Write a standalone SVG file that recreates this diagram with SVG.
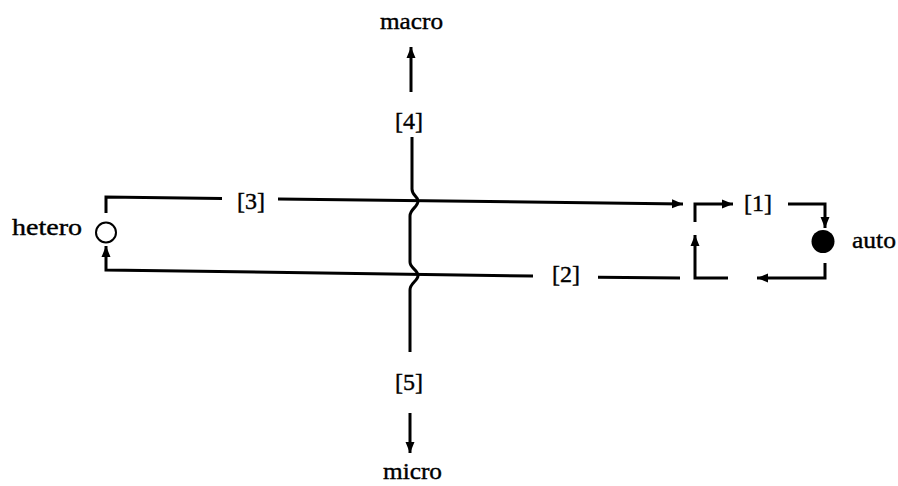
<svg xmlns="http://www.w3.org/2000/svg" width="898" height="486" viewBox="0 0 898 486">
  <style>
    text { font-family: "Liberation Serif", "Times New Roman", serif; font-size: 24px; fill: #000; stroke: #000; stroke-width: 0.4; }
    .ln { fill: none; stroke: #000; stroke-width: 3; stroke-linejoin: miter; }
  </style>
  <defs>
    <marker id="arr" markerUnits="userSpaceOnUse" markerWidth="12" markerHeight="10" viewBox="0 0 12 10" refX="11" refY="5" orient="auto">
      <path d="M0,0.5 L11,5 L0,9.5 Z" fill="#000"/>
    </marker>
  </defs>
  <rect width="898" height="486" fill="#fff"/>

  <g id="hetero">
    <circle cx="106" cy="232.5" r="10" fill="#fff" stroke="#000" stroke-width="2"/>
    <text x="12" y="235" textLength="70" lengthAdjust="spacingAndGlyphs">hetero</text>
  </g>
  <g id="auto">
    <circle cx="823" cy="241.5" r="11.5" fill="#000"/>
    <text x="852" y="248" textLength="44" lengthAdjust="spacingAndGlyphs">auto</text>
  </g>
  <g id="macro">
    <text x="380" y="29" textLength="63" lengthAdjust="spacingAndGlyphs">macro</text>
  </g>
  <g id="micro">
    <text x="383" y="479" textLength="59" lengthAdjust="spacingAndGlyphs">micro</text>
  </g>
  <g id="labels">
    <text x="744" y="211">[1]</text>
    <text x="552" y="282">[2]</text>
    <text x="237" y="209">[3]</text>
    <text x="395" y="128.5">[4]</text>
    <text x="395" y="389.5">[5]</text>
  </g>

  <g id="connectors">
    <path class="ln" d="M106,213 L106,197 L222,198.4"/>
    <path class="ln" d="M278,199 L683,204" marker-end="url(#arr)"/>
    <path class="ln" d="M680,278 L598,277.3"/>
    <path class="ln" d="M533,276 L106,270 L106,246" marker-end="url(#arr)"/>
    <path class="ln" d="M412,137 L412,189 C412,196 418,196 418,201 C418,207 410,209 410,216 L410,262 C410,268 418,270 418,275.5 C418,281 410,283 410,290 L410,352"/>
    <path class="ln" d="M411,92 L411,47" marker-end="url(#arr)"/>
    <path class="ln" d="M410,413 L410,453" marker-end="url(#arr)"/>
    <path class="ln" d="M695,222 L695,204 L733,204" marker-end="url(#arr)"/>
    <path class="ln" d="M728,278 L695,278 L695,235" marker-end="url(#arr)"/>
    <path class="ln" d="M788,204 L825,204 L825,228" marker-end="url(#arr)"/>
    <path class="ln" d="M825,263 L825,278 L757,278" marker-end="url(#arr)"/>
  </g>
</svg>
